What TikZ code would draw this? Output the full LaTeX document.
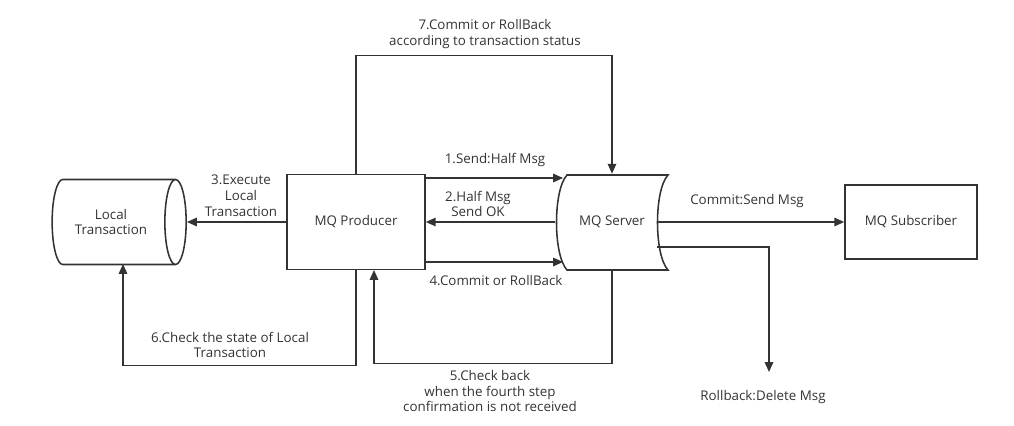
\documentclass[tikz,border=0pt]{standalone}
\usepackage{fontspec}
\setmainfont{Open Sans}
\usepackage{tikz}
\usetikzlibrary{positioning, arrows.meta, shapes.geometric}
\definecolor{mq-dark}{HTML}{333333}

\begin{document}
\begin{tikzpicture}[x=0.025cm, y=-0.025cm,
    box/.style={draw=mq-dark, line width=1.1pt, text=mq-dark, font=\fontsize{9.5}{11.3}\selectfont, align=center},
    arr/.style={draw=mq-dark, line width=1.1pt, -{Triangle[length=7pt, width=6pt]}},
    lbl/.style={text=mq-dark, font=\fontsize{9.5}{11.3}\selectfont, align=center, inner sep=0pt},
]
    \useasboundingbox (0,0) rectangle (1014,426);

    % Nodes
    \node[box, cylinder, aspect=0.6, minimum width=2.125cm, minimum height=3.35cm] (loc) at (111,222) {Local\\Transaction};
    \node[box, minimum width=3.45cm, minimum height=2.375cm] (prod) at (356,222) {MQ Producer};
    \node[box, draw=none, minimum width=2.8cm, minimum height=2.375cm] (srv) at (612,222) {MQ Server};
    \node[box, minimum width=3.3cm, minimum height=1.85cm] (sub) at (911,222) {MQ Subscriber};

    % Server outline
    \draw[mq-dark, line width=1.1pt] (567,175) -- (668,175)
        .. controls (654,190) and (654,255) .. (668,270) -- (567,270)
        .. controls (553,255) and (553,190) .. (567,175) -- cycle;
    \coordinate (srvA) at (563,178);
    \coordinate (srvB) at (563,262);
    \coordinate (srvE) at (658,222);
    \coordinate (srvR) at (657,247);
    \coordinate (prodA) at (425,178);
    \coordinate (prodB) at (425,262);
    \coordinate (prodC) at (374,270);
    \coordinate (locS) at (123,264);
    \coordinate (drop) at (769,372);

    % Steps
    \draw[arr] (prodA) -- (srvA);
    \node[lbl] (l1) at (495,160) {1.Send:Half Msg};
    \draw[arr] (srv.west) -- (prod.east);
    \node[lbl] (l2) at (478,204) {2.Half Msg\\Send OK};
    \draw[arr] (prod.west) -- (loc.east);
    \node[lbl] (l3) at (241,196) {3.Execute\\Local\\Transaction};
    \draw[arr] (prodB) -- (srvB);
    \node[lbl] (l4) at (496,281) {4.Commit or RollBack};
    \draw[arr] (srv.south) -- ++(0,93) -| (prodC);
    \node[lbl] (l5) at (490,391) {5.Check back\\when the fourth step\\confirmation is not received};
    \draw[arr] (prod.south) -- ++(0,95) -| (locS);
    \node[lbl] (l6) at (230,345) {6.Check the state of Local\\Transaction};
    \draw[arr] (prod.north) -- ++(0,-118) -| (srv.north);
    \node[lbl] (l7) at (485,34) {7.Commit or RollBack\\according to transaction status};

    % Delivery
    \draw[arr] (srvE) -- (sub.west);
    \node[lbl] (lc) at (747,201) {Commit:Send Msg};
    \draw[arr] (srvR) -| (drop);
    \node[lbl] (lr) at (763,397) {Rollback:Delete Msg};
\end{tikzpicture}
\end{document}
